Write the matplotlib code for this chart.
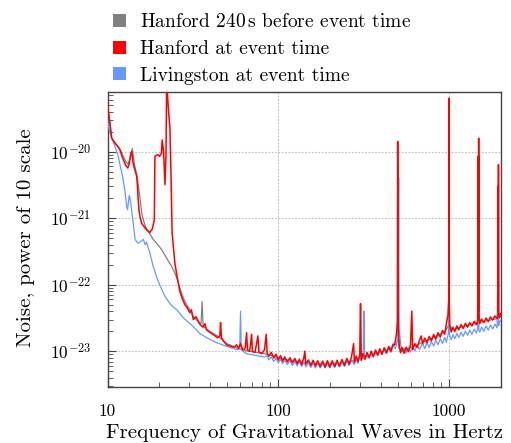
import matplotlib
matplotlib.use("Agg")
import matplotlib.pyplot as plt
from matplotlib.patches import Patch
from matplotlib.ticker import NullFormatter, LogLocator
import numpy as np

# ---------------- data ----------------
labels = ["Hanford 240$\\,$s before event time", "Hanford at event time", "Livingston at event time"]
colors = ["#808080", "#ff0000", "#6699ff"]

x_ticks = [10, 100, 1000]
x_tick_labels = ["10", "100", "1000"]
y_ticks = [1e-23, 1e-22, 1e-21, 1e-20]
y_tick_labels = [r"$10^{-23}$", r"$10^{-22}$", r"$10^{-21}$", r"$10^{-20}$"]

# Hanford 240 s before event (gray)
gray_freq_low = [10.0, 10.3, 10.58, 11.06, 11.83, 12.37, 12.78, 13.13, 13.5, 13.97, 14.36, 14.81, 15.1, 15.5,
                 15.85, 16.4, 16.9, 17.7, 18.5, 19.4, 20.7, 22.2, 23.7, 24.8, 25.6, 26.5, 27.4, 28.4, 30.3,
                 31.8, 33.5, 35.3, 35.8, 36.3, 38.5, 41, 44, 47, 50, 54, 58, 62, 67, 72, 78, 83]
gray_asd_low = [5.5e-20, 2.8e-20, 1.6e-20, 1.35e-20, 1.1e-20, 8.5e-21, 7.2e-21, 6.5e-21, 7.5e-21, 1.12e-20,
                6.5e-21, 4.6e-21, 3.3e-21, 2.0e-21, 1.2e-21, 8.5e-22, 7.0e-22, 5.8e-22, 4.8e-22, 4.2e-22,
                3.4e-22, 2.5e-22, 1.9e-22, 1.5e-22, 1.2e-22, 9e-23, 7e-23, 5.6e-23, 4.2e-23, 3.3e-23,
                2.9e-23, 2.6e-23, 5.6e-23, 2.4e-23, 2.1e-23, 1.9e-23, 1.7e-23, 1.5e-23, 1.3e-23, 1.2e-23,
                1.1e-23, 1.05e-23, 1.0e-23, 9.7e-24, 9.4e-24, 9.2e-24]
gray_freq_high = [86, 95, 105, 120, 140, 160, 190, 220, 250, 280, 302, 303, 304, 310, 350, 400, 450, 490,
                  503, 504, 505, 510, 560, 650, 750, 850, 950, 998, 999, 1000, 1050, 1200, 1400, 1489,
                  1490, 1491, 1600, 1800, 1944, 1945, 1946, 2000]
gray_asd_high = [9.0e-24, 8.4e-24, 7.7e-24, 7.2e-24, 6.8e-24, 6.5e-24, 6.4e-24, 6.5e-24, 6.8e-24, 7.3e-24,
                 8e-24, 3.0e-23, 8e-24, 7.8e-24, 8.8e-24, 9.8e-24, 1.08e-23, 1.3e-23, 1.5e-23, 6.5e-21,
                 1.5e-23, 1.1e-23, 1.05e-23, 1.25e-23, 1.48e-23, 1.7e-23, 2.0e-23, 2.5e-23, 3.0e-20, 2.5e-23,
                 2.1e-23, 2.35e-23, 2.6e-23, 2.7e-23, 8.0e-21, 2.7e-23, 2.8e-23, 3.0e-23, 3.1e-23, 3.0e-21,
                 3.1e-23, 3.3e-23]

# Hanford at event time (red)
red_freq_low = [10.0, 10.1, 10.3, 10.58, 11.06, 11.5, 11.83, 12.1, 12.37, 12.78, 13.13, 13.36, 13.72, 13.85,
                14.1, 14.36, 14.81, 15.0, 15.1, 15.3, 15.5, 15.85, 16.9, 17.7, 18.3, 18.8, 18.95, 19.4, 19.8,
                20.2, 20.7, 20.9, 21.3, 21.7, 22.0, 22.2, 22.7, 23.2, 23.4, 23.6, 23.9, 24.8, 25.6, 26.5,
                27.4, 28.4, 29.3, 30.3, 31.0, 31.8, 33.0, 34.5, 35.5, 36.3, 37.2, 38.0, 40.0, 42.0, 44.0,
                45.5, 45.9, 46.5, 48, 49.8, 52, 55, 57, 58.5, 60, 62, 64, 65.2, 66, 68, 69.8, 70.5, 73, 76,
                77, 80, 83, 85, 86]
red_asd_low = [6.0e-20, 4.0e-20, 2.86e-20, 1.6e-20, 1.35e-20, 1.2e-20, 1.07e-20, 8.8e-21, 7.6e-21, 6.25e-21,
               5.7e-21, 6.4e-21, 9.6e-21, 1.01e-20, 7.0e-21, 5.7e-21, 4.3e-21, 2.9e-21, 2.0e-21, 1.3e-21,
               1.06e-21, 8.4e-22, 6.7e-22, 6.1e-22, 6.9e-22, 9.5e-22, 8.5e-21, 8.9e-21, 9.0e-21, 8.5e-21,
               9.6e-21, 1.5e-20, 1.0e-20, 3.2e-21, 9e-21, 1.2e-19, 4.5e-20, 2.27e-20, 9e-21, 3.2e-21, 6e-22,
               2.1e-22, 1.3e-22, 8e-23, 6.2e-23, 5.0e-23, 4.5e-23, 3.8e-23, 4.2e-23, 3.0e-23, 3.3e-23,
               2.6e-23, 2.4e-23, 2.3e-23, 2.6e-23, 2.1e-23, 1.9e-23, 1.75e-23, 1.6e-23, 1.7e-23, 2.7e-23,
               1.6e-23, 1.4e-23, 1.25e-23, 1.2e-23, 1.15e-23, 1.25e-23, 1.1e-23, 1.3e-23, 1.05e-23, 1.1e-23,
               1.9e-23, 1.05e-23, 1.0e-23, 1.8e-23, 1.0e-23, 9.6e-24, 1.7e-23, 9.8e-24, 9.2e-24, 1.05e-23,
               1.8e-23, 9.5e-24]
red_freq_high = [88, 91, 94, 97, 100, 103, 106, 109, 113, 117, 121, 125, 129, 133, 137, 141, 143, 145, 150,
                 155, 160, 165, 170, 176, 182, 188, 194, 200, 207, 214, 221, 228, 236, 244, 252, 260, 268,
                 276, 279, 286, 293, 300, 303, 306, 313, 322, 331, 340, 350, 360, 371, 382, 393, 405, 417,
                 430, 443, 456, 470, 480, 488, 494, 498, 500, 502, 506, 512, 520, 530, 545, 560, 577, 594,
                 605, 612, 630, 650, 670, 687, 700, 720, 742, 765, 788, 812, 836, 862, 888, 915, 943, 964,
                 985, 995, 999, 1003, 1010, 1030, 1054, 1080, 1110, 1140, 1175, 1210, 1245, 1283, 1322,
                 1362, 1403, 1445, 1470, 1484, 1487, 1490, 1494, 1510, 1550, 1598, 1646, 1696, 1747, 1800,
                 1855, 1910, 1935, 1940, 1942, 1946, 1950, 1970, 2000]
red_asd_high_e24 = [8.4, 9.6, 7.9, 9.0, 7.4, 8.6, 7.1, 8.2, 6.9, 8.0, 6.7, 7.8, 6.5, 7.6, 6.3, 7.9, 10.0, 6.4,
                    7.4, 6.1, 7.3, 6.0, 7.2, 5.9, 7.1, 5.8, 7.2, 5.8, 7.2, 5.9, 7.3, 6.0, 7.5, 6.1, 7.8, 6.4,
                    8.1, 13, 6.8, 8.5, 7.0, 9.0, 52, 7.3, 9.2, 7.6, 9.6, 8.0, 10.0, 8.3, 10.4, 8.7, 10.9, 9.0,
                    11.3, 9.4, 11.8, 10.0, 12.8, 12.5, 16, 20, 30, 14300, 40, 18, 11.5, 9.5, 11.4, 9.3, 11.5,
                    9.8, 12.2, 40, 10.6, 13.0, 11.4, 14.5, 17, 13, 15.8, 13.4, 16.7, 14.3, 17.8, 15.2, 19.0,
                    16.3, 20.5, 18.0, 26, 35, 60, 64000, 50, 24, 19.5, 23.0, 19.8, 24.0, 21.0, 25.2, 22.0, 26.2,
                    23.0, 27.0, 24.0, 28.2, 25.0, 29, 8600, 40, 16000, 40, 26.0, 30.5, 27.0, 31.5, 28.0, 32.8,
                    29.5, 34.0, 31.0, 36, 3050, 40, 6400, 40, 32, 37]

# Livingston at event time (blue)
blue_freq_low = [10.0, 10.1, 10.3, 10.58, 11.06, 11.57, 11.83, 12.2, 12.66, 12.95, 13.1, 13.4, 13.6, 14.15,
                 14.5, 15.1, 15.7, 16.2, 16.6, 16.9, 17.7, 18.5, 19.4, 20.2, 21.7, 23.2, 24.3, 25.5, 27.7,
                 30, 32, 34.7, 38, 43.5, 49, 54.5, 58, 59.5, 60.1, 60.7, 65, 71, 78, 83]
blue_asd_low = [3.2e-20, 2.5e-20, 2.0e-20, 1.6e-20, 1.2e-20, 8.5e-21, 6.4e-21, 4.5e-21, 2.55e-21, 1.5e-21,
                1.34e-21, 2.2e-21, 1.9e-21, 8.4e-22, 4.8e-22, 4.2e-22, 4.5e-22, 4.8e-22, 4.0e-22, 4.4e-22,
                3.0e-22, 1.9e-22, 1.3e-22, 1.0e-22, 6.7e-23, 5.2e-23, 4.6e-23, 4.2e-23, 3.2e-23, 2.7e-23,
                2.3e-23, 1.85e-23, 1.6e-23, 1.35e-23, 1.2e-23, 1.1e-23, 1.05e-23, 1.2e-23, 4.0e-23,
                1.05e-23, 9.2e-24, 8.8e-24, 8.4e-24, 8.2e-24]
blue_freq_high = [86, 88, 91, 94, 97, 100, 103, 106, 109, 113, 117, 121, 125, 129, 133, 137, 141, 145, 150,
                  155, 160, 165, 170, 176, 182, 188, 194, 200, 207, 214, 221, 228, 236, 244, 252, 260, 268,
                  279, 286, 293, 300, 306, 313, 316, 318, 320, 322, 331, 340, 350, 360, 371, 382, 393, 405,
                  417, 430, 443, 456, 470, 485, 495, 503, 507, 510, 513, 520, 530, 545, 560, 577, 594, 612,
                  630, 650, 670, 700, 720, 742, 765, 788, 812, 836, 862, 888, 915, 943, 964, 985, 995, 1001,
                  1005, 1030, 1054, 1080, 1110, 1140, 1175, 1210, 1245, 1283, 1322, 1362, 1403, 1445, 1470,
                  1492, 1494, 1510, 1550, 1598, 1646, 1696, 1747, 1800, 1855, 1910, 1945, 1950, 1970, 2000]
blue_asd_high_e24 = [8.6, 7.4, 8.2, 7.0, 7.9, 6.7, 7.6, 6.5, 7.4, 6.3, 7.2, 6.1, 7.0, 6.0, 6.9, 5.9, 6.8, 5.8,
                     6.7, 5.7, 6.6, 5.6, 6.6, 5.6, 6.6, 5.6, 6.6, 5.6, 6.7, 5.7, 6.8, 5.8, 6.9, 5.9, 7.1, 6.1,
                     7.3, 6.3, 7.6, 6.5, 8.5, 7.4, 9.0, 12, 40, 9, 7.7, 9.4, 7.9, 9.7, 8.3, 10.1, 8.6, 10.6, 8.9,
                     11.0, 9.2, 11.3, 9.6, 12.1, 11.0, 14, 16, 4000, 20, 19, 13, 9.9, 11.2, 9.4, 11.4, 9.7,
                     11.9, 10.1, 12.4, 10.6, 13.1, 11.0, 13.5, 11.4, 14.1, 12.0, 14.7, 12.5, 15.4, 13.1, 16.1,
                     13.6, 17.6, 19.8, 200, 17.6, 14.9, 17.8, 15.4, 18.5, 16.1, 19.3, 16.7, 20.0, 17.4, 20.8,
                     18.0, 21.6, 18.7, 22.0, 1800, 21, 19.4, 23.1, 20.0, 24.0, 20.8, 24.9, 21.6, 25.7, 22.4, 640,
                     24.2, 27, 29]

# ---------------- assemble ----------------
gray_f = np.array(gray_freq_low + gray_freq_high, dtype=float)
gray_v = np.array(gray_asd_low + gray_asd_high, dtype=float)
red_f = np.array(red_freq_low + red_freq_high, dtype=float)
red_v = np.array(red_asd_low + [v * 1e-24 for v in red_asd_high_e24], dtype=float)
blue_f = np.array(blue_freq_low + blue_freq_high, dtype=float)
blue_v = np.array(blue_asd_low + [v * 1e-24 for v in blue_asd_high_e24], dtype=float)

# ---------------- style ----------------
plt.rcParams['font.family'] = ['cmr10', 'DejaVu Serif']
plt.rcParams['mathtext.fontset'] = 'cm'
plt.rcParams['axes.formatter.use_mathtext'] = True
plt.rcParams['axes.unicode_minus'] = False

W, H = 511, 443
fig = plt.figure(figsize=(W / 100, H / 100), dpi=100)
ax_l, ax_r, ax_t, ax_b = 107.5, 500.5, 92, 387
ax = fig.add_axes([ax_l / W, 1 - ax_b / H, (ax_r - ax_l) / W, (ax_b - ax_t) / H])

ax.plot(gray_f, gray_v, color=colors[0], lw=0.9, zorder=2)
ax.plot(blue_f, blue_v, color=colors[2], lw=0.9, zorder=3)
ax.plot(red_f, red_v, color=colors[1], lw=1.1, zorder=4)

ax.set_xscale('log')
ax.set_yscale('log')
ax.set_xlim(10, 2000)
ax.set_ylim(2.9e-24, 7.9e-20)

ax.set_xticks(x_ticks)
ax.set_xticklabels(x_tick_labels)
ax.set_yticks(y_ticks)
ax.set_yticklabels(y_tick_labels)
ax.yaxis.set_minor_locator(LogLocator(base=10, subs=np.arange(2, 10)))
ax.xaxis.set_minor_locator(LogLocator(base=10, subs=np.arange(2, 10)))
ax.xaxis.set_minor_formatter(NullFormatter())
ax.yaxis.set_minor_formatter(NullFormatter())

spine_col = '#444444'
for s in ax.spines.values():
    s.set_color(spine_col)
    s.set_linewidth(1.0)
ax.tick_params(which='both', direction='in', top=False, right=False, color=spine_col)
ax.tick_params(which='major', length=6, width=0.8, labelsize=12.5)
ax.tick_params(which='minor', length=3.5, width=0.6)
ax.tick_params(axis='x', which='major', pad=12)
ax.tick_params(axis='y', which='major', pad=12)

ax.grid(True, which='major', linestyle=(0, (1.5, 1.5)), color='#bdbdbd', linewidth=0.8, zorder=0)
ax.set_axisbelow(True)

ax.set_xlabel("Frequency of Gravitational Waves in Hertz", fontsize=15)
ax.set_ylabel("Noise, power of 10 scale", fontsize=15)
ax.xaxis.set_label_coords(0.5, -0.126)
ax.yaxis.set_label_coords(-0.185, 0.507)

handles = [Patch(facecolor=c, edgecolor='none') for c in colors]
fig.legend(handles, labels, loc='upper left', bbox_to_anchor=(112.5 / W, 1 - 13 / H),
           frameon=False, fontsize=14, handlelength=0.68, handleheight=0.65, handletextpad=0.72,
           labelspacing=0.46, borderpad=0, borderaxespad=0)

fig.savefig("out.png", dpi=100)
